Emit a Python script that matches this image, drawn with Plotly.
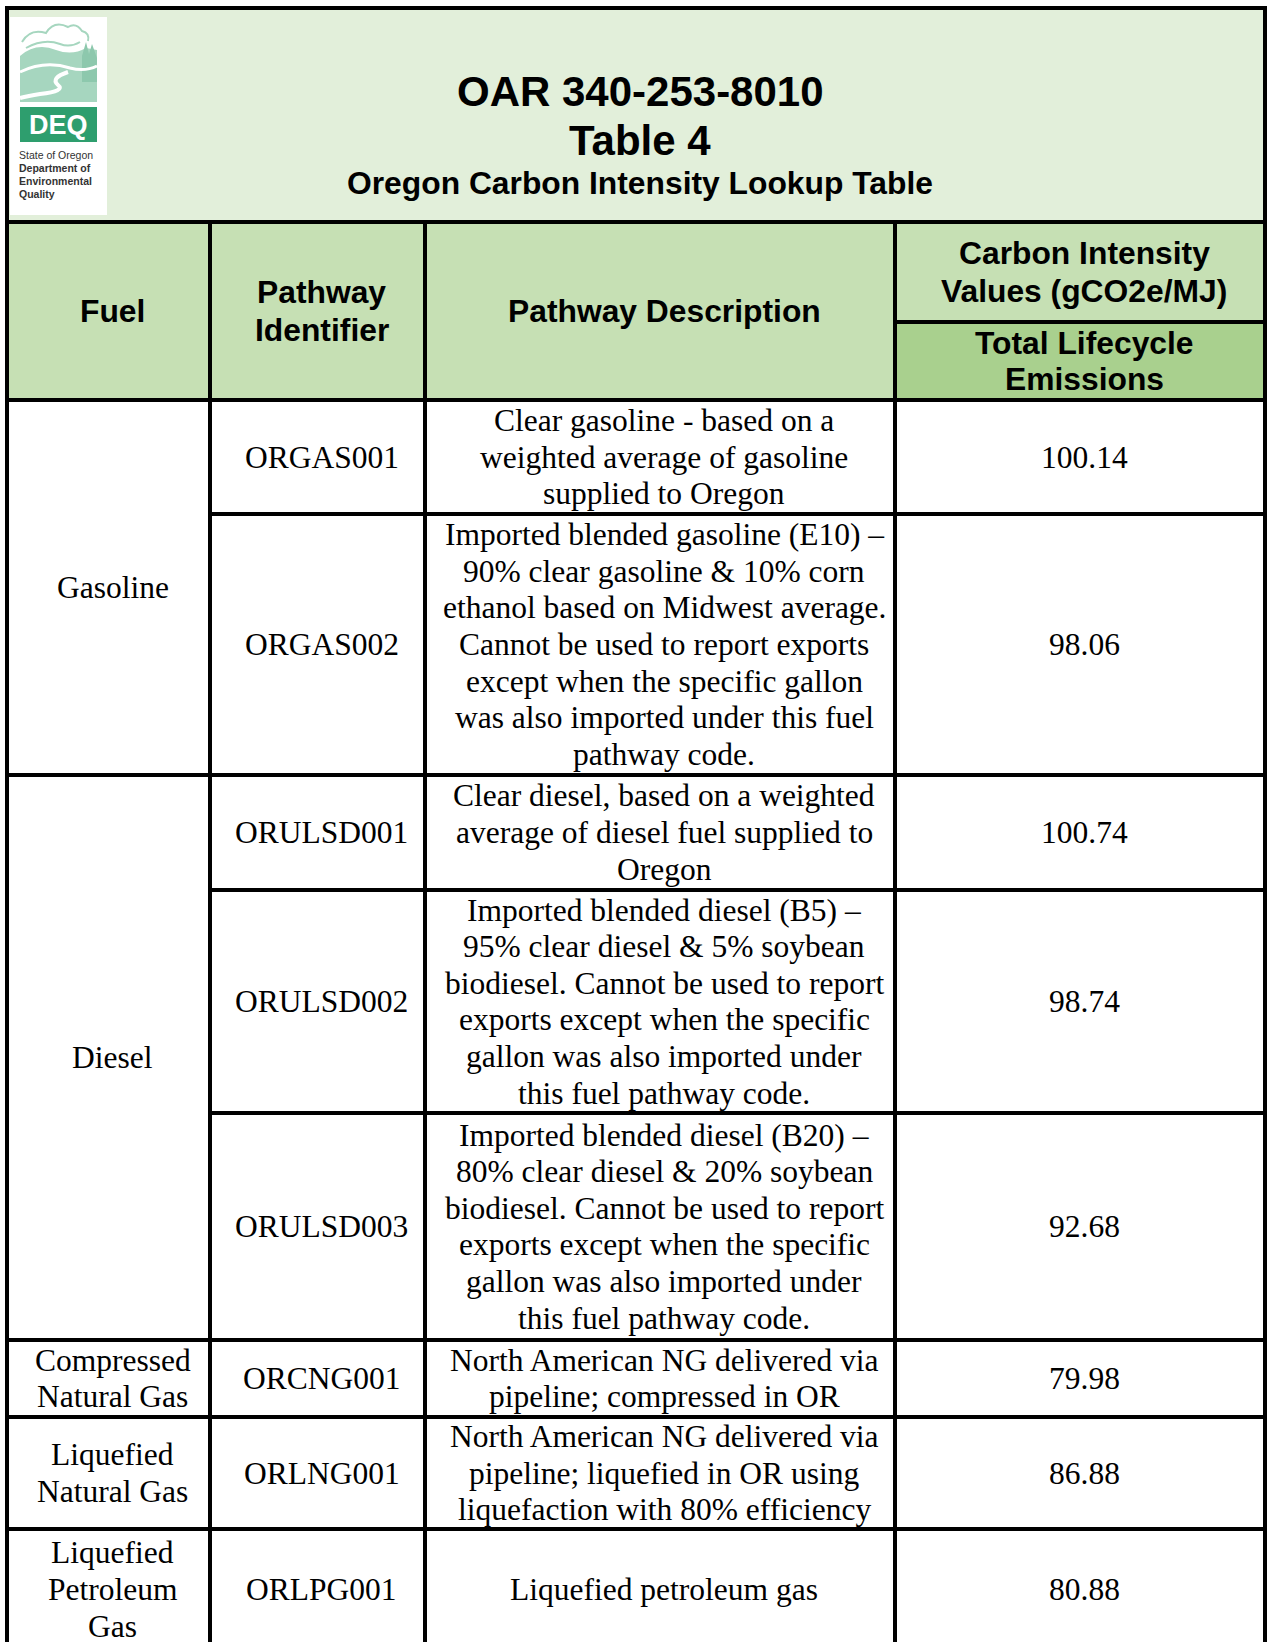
import plotly.graph_objects as go

# Table content
TITLE_LINES = ['OAR 340-253-8010', 'Table 4']
SUBTITLE = 'Oregon Carbon Intensity Lookup Table'

HEADER_FUEL = ['Fuel']
HEADER_ID = ['Pathway', 'Identifier']
HEADER_DESC = ['Pathway Description']
HEADER_CI = ['Carbon Intensity', 'Values (gCO2e/MJ)']
HEADER_CI_SUB = ['Total Lifecycle', 'Emissions']

fuel_names = [
    ['Gasoline'],
    ['Diesel'],
    ['Compressed', 'Natural Gas'],
    ['Liquefied', 'Natural Gas'],
    ['Liquefied', 'Petroleum', 'Gas'],
]
fuel_row_counts = [2, 3, 1, 1, 1]

pathway_ids = ['ORGAS001', 'ORGAS002', 'ORULSD001', 'ORULSD002',
               'ORULSD003', 'ORCNG001', 'ORLNG001', 'ORLPG001']

descriptions = [
    ['Clear gasoline - based on a', 'weighted average of gasoline', 'supplied to Oregon'],
    ['Imported blended gasoline (E10) –', '90% clear gasoline & 10% corn',
     'ethanol based on Midwest average.', 'Cannot be used to report exports',
     'except when the specific gallon', 'was also imported under this fuel',
     'pathway code.'],
    ['Clear diesel, based on a weighted', 'average of diesel fuel supplied to', 'Oregon'],
    ['Imported blended diesel (B5) –', '95% clear diesel & 5% soybean',
     'biodiesel. Cannot be used to report', 'exports except when the specific',
     'gallon was also imported under', 'this fuel pathway code.'],
    ['Imported blended diesel (B20) –', '80% clear diesel & 20% soybean',
     'biodiesel. Cannot be used to report', 'exports except when the specific',
     'gallon was also imported under', 'this fuel pathway code.'],
    ['North American NG delivered via', 'pipeline; compressed in OR'],
    ['North American NG delivered via', 'pipeline; liquefied in OR using',
     'liquefaction with 80% efficiency'],
    ['Liquefied petroleum gas'],
]

ci_values = [100.14, 98.06, 100.74, 98.74, 92.68, 79.98, 86.88, 80.88]

# Layout (pixel grid, y grows downward)
W, H = 1268, 1642
COL_X = [7, 210, 425, 895, 1265]
TOP = 8
BAND_BOTTOM = 222
SUB_LINE = 322
HEAD_BOTTOM = 400
ROW_BOTTOMS = [514, 775, 890, 1113, 1340, 1417, 1529, 1650]
LINE_H = 36.6
HEAD_LINE_H = 37.5
TEXT_DX = 4
LW = 4

BODY_FONT = dict(family='Times New Roman, Liberation Serif, serif', size=31.5, color='#000000')
HEAD_FONT = dict(family='Arial, Liberation Sans, sans-serif', size=31.8, color='#000000')

BAND_COLOR = '#E2EFDA'
HEAD_COLOR = '#C6E0B4'
SUB_COLOR = '#A9D08E'
LOGO_LIGHT = '#A6D6BF'
LOGO_DARK = '#2E9E6E'

shapes = []
annotations = []


def rect(x0, y0, x1, y1, fill):
    shapes.append(dict(type='rect', xref='x', yref='y', x0=x0, y0=y0, x1=x1, y1=y1,
                       fillcolor=fill, line=dict(width=0), layer='below'))


def hline(y, x0, x1):
    shapes.append(dict(type='line', xref='x', yref='y', x0=x0 - LW / 2, x1=x1 + LW / 2,
                       y0=y, y1=y, line=dict(color='black', width=LW)))


def vline(x, y0, y1):
    shapes.append(dict(type='line', xref='x', yref='y', x0=x, x1=x,
                       y0=y0 - LW / 2, y1=y1 + LW / 2, line=dict(color='black', width=LW)))


def text_block(lines, xc, yc, font, step, bold=False):
    n = len(lines)
    for i, s in enumerate(lines):
        y = yc + (i - (n - 1) / 2) * step
        annotations.append(dict(x=xc, y=y, xref='x', yref='y', showarrow=False,
                                text='<b>%s</b>' % s if bold else s,
                                font=font, xanchor='center', yanchor='middle'))


# backgrounds
rect(COL_X[0], TOP, COL_X[-1], BAND_BOTTOM, BAND_COLOR)
rect(COL_X[0], BAND_BOTTOM, COL_X[-1], HEAD_BOTTOM, HEAD_COLOR)
rect(COL_X[3], SUB_LINE, COL_X[-1], HEAD_BOTTOM, SUB_COLOR)

# logo (rough sketch of the DEQ mark)
shapes.append(dict(type='rect', xref='x', yref='y', x0=10, y0=17, x1=107, y1=215,
                   fillcolor='white', line=dict(width=0)))
shapes.append(dict(type='path', xref='x', yref='y',
                   path='M 20 56 Q 36 42 56 50 Q 72 56 86 48 L 97 50 L 97 102 L 20 102 Z',
                   fillcolor=LOGO_LIGHT, line=dict(width=0)))
shapes.append(dict(type='path', xref='x', yref='y',
                   path='M 82 56 L 86 42 L 89 54 L 92 44 L 97 58 L 97 82 L 82 82 Z',
                   fillcolor='#8DC8AD', line=dict(width=0)))
shapes.append(dict(type='path', xref='x', yref='y',
                   path='M 20 72 Q 45 60 70 68 Q 85 72 97 66',
                   line=dict(color='white', width=3)))
shapes.append(dict(type='path', xref='x', yref='y',
                   path='M 68 72 Q 50 78 58 85 Q 66 91 40 94 Q 28 96 20 98',
                   line=dict(color='white', width=4)))
shapes.append(dict(type='path', xref='x', yref='y',
                   path='M 22 42 Q 30 28 46 33 Q 54 20 68 27 Q 76 22 82 31 Q 90 33 88 41',
                   line=dict(color=LOGO_LIGHT, width=2)))
shapes.append(dict(type='path', xref='x', yref='y',
                   path='M 26 48 Q 44 38 60 44 Q 70 48 80 42',
                   line=dict(color=LOGO_LIGHT, width=2)))
shapes.append(dict(type='rect', xref='x', yref='y', x0=20, y0=107, x1=97, y1=142,
                   fillcolor=LOGO_DARK, line=dict(width=0)))
annotations.append(dict(x=58.5, y=125, xref='x', yref='y', showarrow=False, text='<b>DEQ</b>',
                        font=dict(family='Arial, Liberation Sans, sans-serif', size=27, color='white'),
                        xanchor='center', yanchor='middle'))
logo_lines = ['State of Oregon', '<b>Department of</b>', '<b>Environmental</b>', '<b>Quality</b>']
for i, s in enumerate(logo_lines):
    annotations.append(dict(x=17, y=155 + i * 13, xref='x', yref='y', showarrow=False, text=s,
                            font=dict(family='Arial, Liberation Sans, sans-serif', size=10.5,
                                      color='#333333'),
                            xanchor='left', yanchor='middle'))

# title
mid = (COL_X[0] + COL_X[-1]) / 2 + TEXT_DX
text_block(TITLE_LINES, mid, 115.5, dict(HEAD_FONT, size=42), 49, bold=True)
text_block([SUBTITLE], mid, 183, HEAD_FONT, HEAD_LINE_H, bold=True)

# column headers
cx = [(COL_X[i] + COL_X[i + 1]) / 2 + TEXT_DX for i in range(4)]
head_mid = (BAND_BOTTOM + HEAD_BOTTOM) / 2
text_block(HEADER_FUEL, cx[0], head_mid, HEAD_FONT, HEAD_LINE_H, bold=True)
text_block(HEADER_ID, cx[1], head_mid, HEAD_FONT, HEAD_LINE_H, bold=True)
text_block(HEADER_DESC, cx[2], head_mid, HEAD_FONT, HEAD_LINE_H, bold=True)
text_block(HEADER_CI, cx[3], (BAND_BOTTOM + SUB_LINE) / 2, HEAD_FONT, HEAD_LINE_H, bold=True)
text_block(HEADER_CI_SUB, cx[3], (SUB_LINE + HEAD_BOTTOM) / 2, HEAD_FONT, HEAD_LINE_H - 2, bold=True)

# body rows
row_tops = [HEAD_BOTTOM] + ROW_BOTTOMS[:-1]
for i in range(len(pathway_ids)):
    yc = (row_tops[i] + ROW_BOTTOMS[i]) / 2
    text_block([pathway_ids[i]], cx[1], yc, BODY_FONT, LINE_H)
    text_block(descriptions[i], cx[2], yc, BODY_FONT, LINE_H)
    text_block(['%.2f' % ci_values[i]], cx[3], yc, BODY_FONT, LINE_H)

start = 0
group_ends = []
for name, n in zip(fuel_names, fuel_row_counts):
    y0 = row_tops[start]
    y1 = ROW_BOTTOMS[start + n - 1]
    text_block(name, cx[0], (y0 + y1) / 2, BODY_FONT, LINE_H)
    start += n
    group_ends.append(start - 1)

# grid lines
hline(TOP, COL_X[0], COL_X[-1])
hline(BAND_BOTTOM, COL_X[0], COL_X[-1])
hline(HEAD_BOTTOM, COL_X[0], COL_X[-1])
hline(SUB_LINE, COL_X[3], COL_X[-1])
for i, yb in enumerate(ROW_BOTTOMS[:-1]):
    if i in group_ends:
        hline(yb, COL_X[0], COL_X[-1])
    else:
        hline(yb, COL_X[1], COL_X[-1])
vline(COL_X[0], TOP, H + 10)
vline(COL_X[-1], TOP, H + 10)
for x in COL_X[1:-1]:
    vline(x, BAND_BOTTOM, H + 10)

fig = go.Figure()
fig.update_layout(
    width=W, height=H,
    margin=dict(l=0, r=0, t=0, b=0),
    paper_bgcolor='white',
    plot_bgcolor='white',
    xaxis=dict(range=[0, W], visible=False, fixedrange=True),
    yaxis=dict(range=[H, 0], visible=False, fixedrange=True),
    shapes=shapes,
    annotations=annotations,
    showlegend=False,
)
# drop the default page margin so the figure sits at the window's top-left
fig.write_html('out.html', config={'displayModeBar': False},
               post_script="document.body.style.margin='0';")
